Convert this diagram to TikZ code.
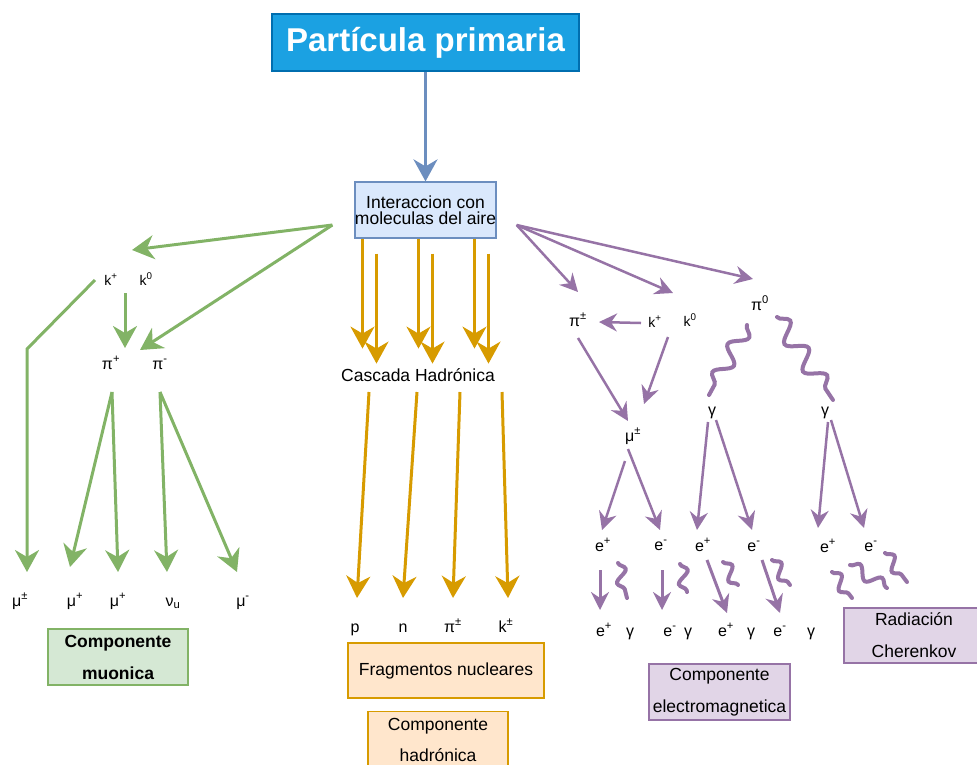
\documentclass[tikz,border=0pt]{standalone}
\usepackage{fontspec}
\setmainfont{Liberation Sans}
\usepackage{tikz}
\usetikzlibrary{
	arrows.meta,
	calc,
	decorations.pathmorphing,
	positioning
}
\definecolor{PrimBlue}{RGB}{27,161,226}
\definecolor{PrimEdge}{RGB}{0,110,175}
\definecolor{IntFill}{RGB}{218,232,252}
\definecolor{IntEdge}{RGB}{108,142,191}
\definecolor{MuGreen}{RGB}{130,179,102}
\definecolor{MuFill}{RGB}{213,232,212}
\definecolor{HadOrange}{RGB}{215,155,0}
\definecolor{HadFill}{RGB}{255,230,204}
\definecolor{EmPurple}{RGB}{150,115,166}
\definecolor{EmFill}{RGB}{225,213,231}

\tikzset{
	lbl/.style={inner sep=1pt, text height=11pt, text depth=3pt, font=\fontsize{16}{19}\selectfont},
	caja/.style={draw, line width=1.2pt, minimum width=140pt, minimum height=56pt, inner sep=0pt, align=center, font=\fontsize{17.5}{32}\selectfont},
	flecha/.style={line width=3pt, -{Stealth[length=22pt,width=24pt,inset=7pt]}},
	flechita/.style={line width=2.5pt, EmPurple, -{Stealth[length=18pt,width=18pt,inset=6pt]}},
	onda/.style 2 args={line width=4pt, line cap=round, EmPurple, decorate, decoration={snake, segment length=#1, amplitude=#2}}
}

\begin{document}
\begin{tikzpicture}[x=1pt, y=-1pt]
	\useasboundingbox (0,0) rectangle (977,764);
	% primaria
	\node[caja, draw=PrimEdge, fill=PrimBlue, text=white, minimum width=307pt, minimum height=57pt, font=\fontsize{33}{36}\selectfont\bfseries] (prim) at (425.5,42.5) {Partícula primaria};
	\node[caja, draw=IntEdge, fill=IntFill, font=\fontsize{17.5}{16}\selectfont] (inter) at (425.5,210) {Interaccion con\\moleculas del aire};
	\draw[flecha, IntEdge] (prim.south) -- (inter.north);

	% componente muonica
	\begin{scope}
		\node[lbl, font=\fontsize{14}{17}\selectfont] (kpG) at (111,281) {k\textsuperscript{+}};
		\node[lbl, font=\fontsize{14}{17}\selectfont] (k0G) at (146,281) {k\textsuperscript{0}};
		\node[lbl] (pipG) at (111,365) {π\textsuperscript{+}};
		\node[lbl] (pimG) at (160,365) {π\textsuperscript{-}};
		\node[lbl] (muG1) at (20,602) {μ\textsuperscript{±}};
		\node[lbl] (muG2) at (75,602) {μ\textsuperscript{+}};
		\node[lbl] (muG3) at (118,602) {μ\textsuperscript{+}};
		\node[lbl] (nuG) at (173,602) {ν\textsubscript{u}};
		\node[lbl] (muG4) at (243,602) {μ\textsuperscript{-}};
		\node[caja, draw=MuGreen, fill=MuFill, font=\fontsize{17.5}{32}\selectfont\bfseries] (muon) at (118,657) {Componente\\muonica};
		\coordinate (gsrc) at ($(inter.west)+(-22,15)$);
		\draw[flecha, MuGreen] (gsrc) -- ($(kpG)+(21,-31)$);
		\draw[flecha, MuGreen] (gsrc) -- ($(pipG)+(29,-15)$);
		\draw[flecha, MuGreen] ($(kpG)+(14,12)$) -- ($(pipG)+(14,-17)$);
		\draw[flecha, MuGreen] ($(kpG)+(-16,-1)$) -- ($(muG1)+(7,-253)$) -- ($(muG1)+(7,-30)$);
		\draw[flecha, MuGreen] ($(pipG)+(1,27)$) -- ($(muG2)+(-5,-35)$);
		\draw[flecha, MuGreen] ($(pipG)+(1,27)$) -- ($(muG3)+(0,-30)$);
		\draw[flecha, MuGreen] ($(pimG)+(0,27)$) -- ($(nuG)+(-6,-30)$);
		\draw[flecha, MuGreen] ($(pimG)+(0,27)$) -- ($(muG4)+(-6,-30)$);
	\end{scope}

	% componente hadronica
	\begin{scope}
		\node[lbl, font=\fontsize{17.5}{20}\selectfont] (cas) at (418,377) {Cascada Hadrónica};
		\foreach \dx in {-63,-7,49} {
			\draw[flecha, HadOrange] ($(inter.south)+(\dx,0)$) -- ($(inter.south)+(\dx,110)$);
			\draw[flecha, HadOrange] ($(inter.south)+(\dx+14,15)$) -- ($(inter.south)+(\dx+14,125)$);
		}
		\node[lbl] (pH) at (355,628) {p};
		\node[lbl] (nH) at (403,628) {n};
		\node[lbl] (piH) at (453,628) {π\textsuperscript{±}};
		\node[lbl] (kH) at (506,628) {k\textsuperscript{±}};
		\foreach \dx/\lab/\tx in {-49/pH/2, -1/nH/0, 42/piH/0, 84/kH/2}
			\draw[flecha, HadOrange] ($(cas)+(\dx,15)$) -- ($(\lab)+(\tx,-30)$);
		\node[caja, draw=HadOrange, fill=HadFill, minimum width=196pt, minimum height=55pt] (frag) at (446,670.5) {Fragmentos nucleares};
		\node[caja, draw=HadOrange, fill=HadFill, minimum height=57pt, font=\fontsize{17.5}{31}\selectfont] (hadr) at (438,740) {Componente\\hadrónica};
	\end{scope}

	% componente electromagnetica
	\begin{scope}
		\node[lbl] (pipmP) at (578,322) {π\textsuperscript{±}};
		\node[lbl, font=\fontsize{14}{17}\selectfont] (kpP) at (655,323) {k\textsuperscript{+}};
		\node[lbl, font=\fontsize{14}{17}\selectfont] (k0P) at (690,322) {k\textsuperscript{0}};
		\node[lbl] (pi0P) at (760,306) {π\textsuperscript{0}};
		\node[lbl] (muP) at (633,437) {μ\textsuperscript{±}};
		\node[lbl] (gam1) at (712,411) {γ};
		\node[lbl] (gam2) at (825,411) {γ};
		\node[lbl] (ep1) at (603,547) {e\textsuperscript{+}};
		\node[lbl] (em1) at (661,546) {e\textsuperscript{-}};
		\node[lbl] (ep2) at (703,547) {e\textsuperscript{+}};
		\node[lbl] (em2) at (754,547) {e\textsuperscript{-}};
		\node[lbl] (ep3) at (828,548) {e\textsuperscript{+}};
		\node[lbl] (em3) at (871,547) {e\textsuperscript{-}};
		\coordinate (psrc) at ($(inter.east)+(20,15)$);
		\draw[flechita] (psrc) -- ($(pipmP)+(0,-30)$);
		\draw[flechita] (psrc) -- ($(kpP)+(18,-30)$);
		\draw[flechita] (psrc) -- ($(pi0P)+(-7,-27)$);
		\draw[flechita] ($(kpP)+(-14,0)$) -- ($(pipmP)+(21,0)$);
		\draw[flechita] ($(pipmP)+(0,16)$) -- ($(muP)+(-5,-16)$);
		\draw[flechita] ($(kpP)+(13,14)$) -- ($(muP)+(11,-33)$);
		\draw[onda={32}{8}] ($(pi0P)+(-13,19)$) -- ($(gam1)+(-3,-16)$);
		\draw[onda={33}{9}] ($(pi0P)+(17,11)$) -- ($(gam2)+(8,-11)$);
		\draw[flechita] ($(muP)+(-8,24)$) -- ($(ep1)+(-1,-17)$);
		\draw[flechita] ($(muP)+(-5,12)$) -- ($(em1)+(-1,-16)$);
		\draw[flechita] ($(gam1)+(-4,11)$) -- ($(ep2)+(-6,-17)$);
		\draw[flechita] ($(gam1)+(4,9)$) -- ($(em2)+(-2,-17)$);
		\draw[flechita] ($(gam2)+(3,11)$) -- ($(ep3)+(-10,-20)$);
		\draw[flechita] ($(gam2)+(6,9)$) -- ($(em3)+(-7,-19)$);
		% fila de abajo
		\node[lbl] (eB1) at (604,632) {e\textsuperscript{+}};
		\node[lbl] (gB1) at (630,632) {γ};
		\node[lbl] (eB2) at (670,632) {e\textsuperscript{-}};
		\node[lbl] (gB2) at (688,632) {γ};
		\node[lbl] (eB3) at (726,632) {e\textsuperscript{+}};
		\node[lbl] (gB3) at (751,632) {γ};
		\node[lbl] (eB4) at (780,632) {e\textsuperscript{-}};
		\node[lbl] (gB4) at (811,632) {γ};
		\draw[flechita, line width=3pt] ($(ep1)+(-3,23)$) -- ($(eB1)+(-4,-22)$);
		\draw[flechita, line width=3pt] ($(em1)+(1,24)$) -- ($(eB2)+(-8,-22)$);
		\draw[flechita, line width=3pt] ($(ep2)+(4,13)$) -- ($(eB3)+(1,-19)$);
		\draw[flechita, line width=3pt] ($(em2)+(8,13)$) -- ($(eB4)+(0,-19)$);
		\draw[onda={24}{6}] ($(ep1)+(15,16)$) -- ($(gB1)+(-3,-34)$);
		\draw[onda={24}{6}] ($(em1)+(19,18)$) -- ($(gB2)+(-1,-40)$);
		\draw[onda={24}{6}] ($(ep2)+(20,15)$) -- ($(gB3)+(-13,-47)$);
		\draw[onda={24}{6}] ($(em2)+(18,13)$) -- ($(gB4)+(-21,-47)$);
		% cherenkov
		\draw[onda={24}{6}] ($(ep3)+(4,24)$) -- ($(ep3)+(24,50)$);
		\draw[onda={26}{6}] ($(ep3)+(22,17)$) -- ($(em3)+(16,41)$);
		\draw[onda={24}{6}] ($(em3)+(14,6)$) -- ($(em3)+(36,35)$);
		\node[caja, draw=EmPurple, fill=EmFill, minimum width=141pt] (elm) at (719.5,692) {Componente\\electromagnetica};
		\node[caja, draw=EmPurple, fill=EmFill, minimum height=55pt] (cher) at (914,635.5) {Radiación\\Cherenkov};
	\end{scope}
\end{tikzpicture}
\end{document}
